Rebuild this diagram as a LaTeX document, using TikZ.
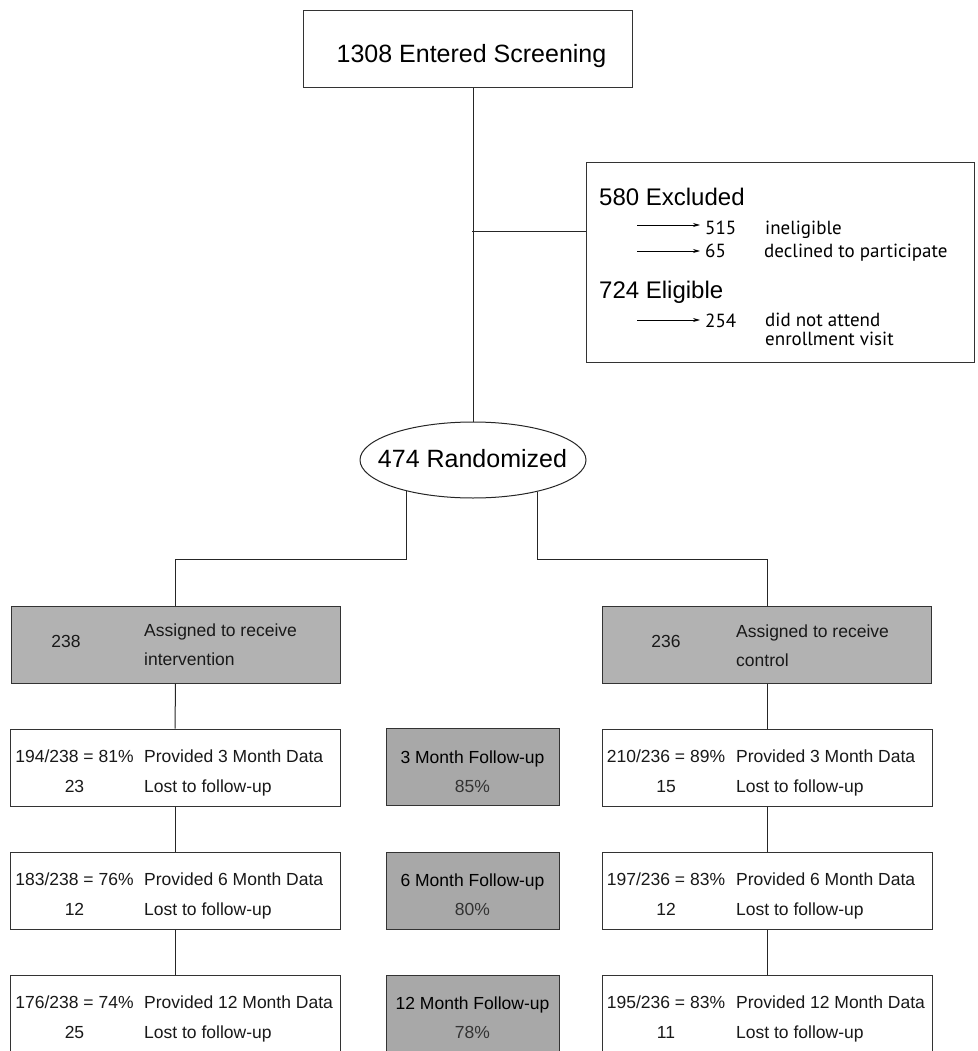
\documentclass[tikz,border=0pt]{standalone}
\usepackage{fontspec}
\setmainfont{Liberation Sans}
\newfontfamily\myr{PT Sans}
\usetikzlibrary{arrows.meta,shapes.geometric}
\begin{document}
\begin{tikzpicture}[x=1pt,y=-1pt,
 line/.style={draw=black!85, line width=1pt},
 box/.style={draw=black!80, line width=1pt, inner sep=0, minimum height=77pt},
 greybox/.style={box, fill=black!30, minimum width=329pt},
 cgrey/.style={box, fill=black!34, minimum width=173pt},
 wbox/.style={box, fill=white, minimum width=330pt},
 txt/.style={inner sep=0, font=\fontsize{17.5}{21}\selectfont, text=black!90},
 lt/.style={txt, anchor=base west},
 ct/.style={txt, anchor=base},
 big/.style={inner sep=0, anchor=base, font=\fontsize{25}{30}\selectfont},
 bigl/.style={inner sep=0, anchor=base west, font=\fontsize{24}{30}\selectfont},
 sm/.style={inner sep=0, anchor=base west, font=\myr\fontsize{19}{16}\selectfont},
 arr/.style={-{Stealth[length=7pt,width=4pt]}, line width=0.8pt}
]
\useasboundingbox (0,0) rectangle (977,1051);
\clip (0,0) rectangle (977,1051);

% top box
\node[box, minimum width=329pt, fill=white] (top) at (467.5,49.5) {};
\node[big] (toptxt) at (471.5,63) {1308 Entered Screening};

% excluded box
\node[box, minimum width=388pt, minimum height=199pt, fill=white] (excl) at (780,262.5) {};
\node[bigl] (exc) at (599,205) {580 Excluded};
\node[bigl] (elg) at (599,298) {724 Eligible};
\node[sm] (n515) at (705,234) {515};
\node[sm] (t515) at (765,234) {ineligible};
\node[sm] (n65) at (705,257) {65};
\node[sm] (t65) at (764,257) {declined to participate};
\node[sm] (n254) at (705,327) {254};
\node[sm] (t254a) at (765,326) {did not attend};
\node[sm] (t254b) at (765,345) {enrollment visit};
\coordinate (a1) at (637,225);
\coordinate (a2) at (637,251);
\coordinate (a3) at (637,320);
\draw[arr] (a1) -- ([xshift=-5pt]n515.west |- a1);
\draw[arr] (a2) -- ([xshift=-5pt]n65.west |- a2);
\draw[arr] (a3) -- ([xshift=-5pt]n254.west |- a3);

% ellipse
\node[ellipse, draw=black!85, line width=1pt, fill=white, minimum width=226pt, minimum height=76pt, inner sep=0] (ell) at (473,460) {};
\node[big] (elltxt) at (472.5,467) {474 Randomized};

% arms
\node[greybox] (lg) at (175.5,644.5) {};
\node[greybox] (rg) at (767,644.5) {};
\node[ct] (lgn) at (66,647) {238};
\node[lt] (lga) at (144,636) {Assigned to receive};
\node[lt] (lgb) at (144,665) {intervention};
\node[ct] (rgn) at (666,647) {236};
\node[lt] (rga) at (736,637) {Assigned to receive};
\node[lt] (rgb) at (736,666) {control};

% rows
\node[wbox] (l1) at (175,767.5) {};
\node[wbox] (l2) at (175,891) {};
\node[wbox] (l3) at (175,1013.5) {};
\node[wbox] (r1) at (767,767.5) {};
\node[wbox] (r2) at (767,891) {};
\node[wbox] (r3) at (767,1013.5) {};
\node[cgrey] (c1) at (472.5,767) {};
\node[cgrey] (c2) at (472.5,890.5) {};
\node[cgrey] (c3) at (472.5,1014) {};

% row texts left
\node[ct] (l1a) at (74.5,762) {194/238 = 81\%};
\node[ct] (l1b) at (74.5,792) {23};
\node[lt] (l1c) at (144,762) {Provided 3 Month Data};
\node[lt] (l1d) at (144,792) {Lost to follow-up};
\node[ct] (l2a) at (74.5,885) {183/238 = 76\%};
\node[ct] (l2b) at (74.5,915) {12};
\node[lt] (l2c) at (144,885) {Provided 6 Month Data};
\node[lt] (l2d) at (144,915) {Lost to follow-up};
\node[ct] (l3a) at (74.5,1008) {176/238 = 74\%};
\node[ct] (l3b) at (74.5,1038) {25};
\node[lt] (l3c) at (144,1008) {Provided 12 Month Data};
\node[lt] (l3d) at (144,1038) {Lost to follow-up};
% row texts right
\node[ct] (r1a) at (666,762) {210/236 = 89\%};
\node[ct] (r1b) at (666,792) {15};
\node[lt] (r1c) at (736,762) {Provided 3 Month Data};
\node[lt] (r1d) at (736,792) {Lost to follow-up};
\node[ct] (r2a) at (666,885) {197/236 = 83\%};
\node[ct] (r2b) at (666,915) {12};
\node[lt] (r2c) at (736,885) {Provided 6 Month Data};
\node[lt] (r2d) at (736,915) {Lost to follow-up};
\node[ct] (r3a) at (666,1008) {195/236 = 83\%};
\node[ct] (r3b) at (666,1038) {11};
\node[lt] (r3c) at (736,1008) {Provided 12 Month Data};
\node[lt] (r3d) at (736,1038) {Lost to follow-up};
% center texts
\node[ct, text=black] (c1a) at (472.5,763) {3 Month Follow-up};
\node[ct, text=black!80] (c1b) at (472.5,792) {85\%};
\node[ct, text=black] (c2a) at (472.5,886) {6 Month Follow-up};
\node[ct, text=black!80] (c2b) at (472.5,915) {80\%};
\node[ct, text=black] (c3a) at (472.5,1009) {12 Month Follow-up};
\node[ct, text=black!80] (c3b) at (472.5,1038) {78\%};

% connectors
\coordinate (br) at (472,231);
\draw[line] (ell.north |- top.south) -- (ell.north);
\draw[line] (br) -- (br -| excl.west);
\draw[line] (ell.205.5) |- (lg.north |- 0,559) -- (lg.north);
\draw[line] (ell.334) |- (rg.north |- 0,559) -- (rg.north);
\draw[line] (lg.south) -- (l1.north);
\draw[line] (l1.south) -- (l2.north);
\draw[line] (l2.south) -- (l3.north);
\draw[line] (rg.south) -- (r1.north);
\draw[line] (r1.south) -- (r2.north);
\draw[line] (r2.south) -- (r3.north);
\end{tikzpicture}
\end{document}
